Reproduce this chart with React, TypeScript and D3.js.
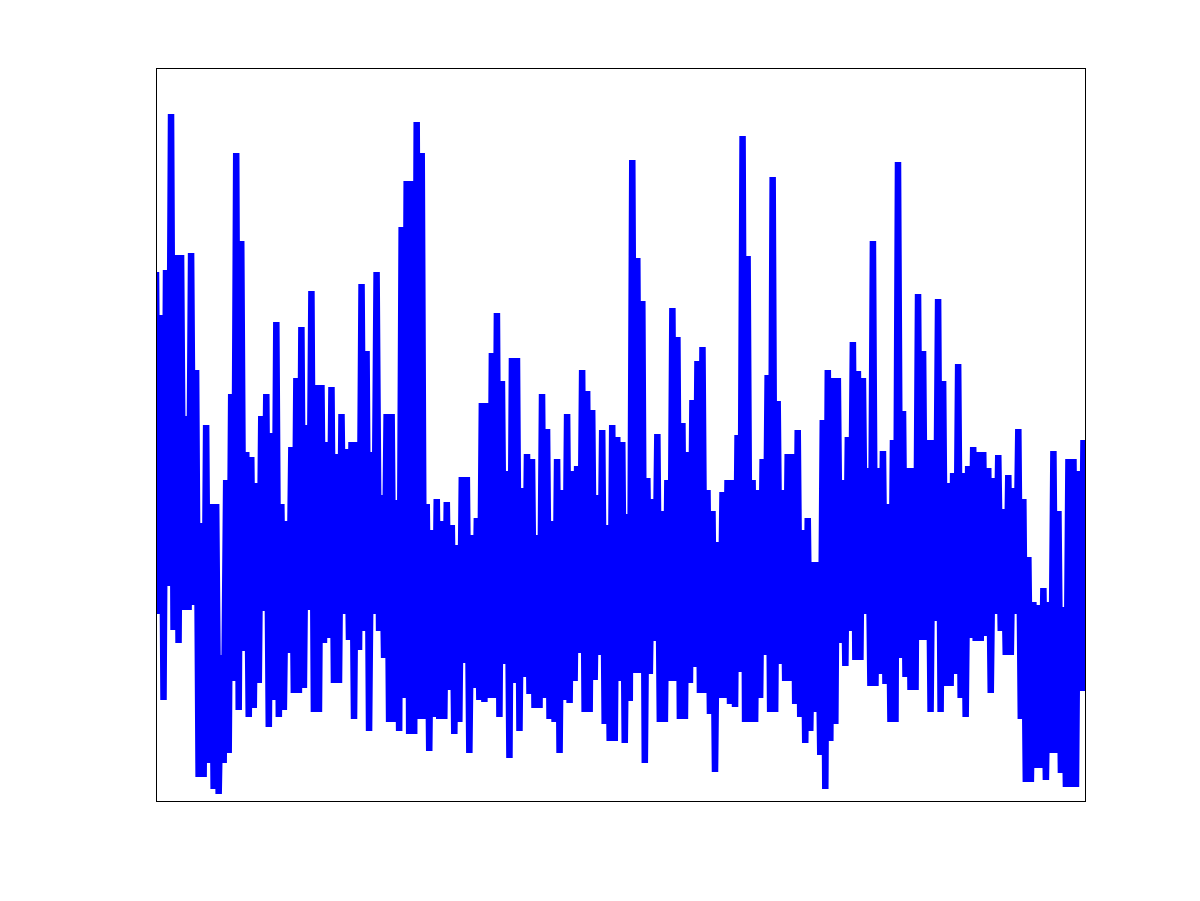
import React, { useRef, useEffect } from "react"
import * as d3 from "d3"

// signal: alternating local highs and lows
const peaks = [
  529, 486, 531, 687, 546, 546, 385, 548, 431, 278, 376, 297, 297, 146, 321, 407, 648, 560, 349, 344,
  318, 385, 407, 368, 479, 297, 280, 354, 423, 474, 376, 510, 416, 416, 359, 414, 347, 387, 352, 359,
  359, 517, 450, 349, 529, 306, 387, 387, 301, 574, 620, 620, 679, 648, 297, 271, 302, 280, 299, 276,
  256, 324, 324, 266, 283, 398, 398, 448, 488, 420, 330, 443, 443, 313, 347, 342, 266, 407, 372, 280,
  342, 311, 387, 330, 335, 431, 410, 391, 306, 371, 276, 376, 364, 359, 287, 641, 543, 500, 323, 302,
  367, 290, 321, 493, 464, 378, 349, 401, 440, 454, 311, 290, 259, 309, 321, 321, 366, 665, 545, 321,
  311, 342, 426, 624, 400, 311, 347, 347, 371, 271, 283, 239, 239, 381, 431, 423, 423, 321, 364, 459,
  430, 423, 333, 560, 333, 350, 297, 361, 639, 390, 333, 333, 507, 450, 361, 361, 502, 420, 318, 328,
  437, 328, 335, 354, 349, 349, 333, 323, 346, 292, 326, 313, 372, 302, 244, 199, 196, 213, 199, 350,
  290, 194, 342, 342, 330, 361,
]

const troughs = [
  187, 101, 215, 171, 158, 191, 191, 196, 24, 24, 38, 12, 7, 38, 48, 120, 91, 150, 84, 93,
  118, 190, 74, 101, 84, 91, 148, 108, 108, 113, 191, 89, 89, 158, 163, 118, 118, 187, 161, 82,
  151, 170, 70, 187, 170, 143, 79, 79, 70, 103, 67, 67, 82, 82, 50, 84, 82, 82, 111, 67,
  79, 138, 48, 113, 101, 99, 103, 103, 84, 137, 43, 118, 70, 124, 107, 93, 93, 103, 82, 79,
  48, 101, 98, 120, 148, 89, 89, 121, 146, 77, 60, 60, 120, 58, 100, 128, 128, 38, 127, 160,
  79, 79, 120, 120, 82, 82, 118, 134, 108, 108, 87, 29, 103, 103, 97, 94, 129, 79, 79, 79,
  103, 146, 89, 89, 137, 120, 120, 97, 84, 58, 70, 89, 46, 12, 60, 77, 158, 135, 170, 141,
  141, 187, 115, 115, 127, 117, 79, 79, 143, 124, 111, 111, 161, 161, 89, 180, 89, 115, 115, 127,
  103, 84, 163, 160, 160, 165, 108, 187, 170, 146, 146, 187, 82, 19, 19, 33, 33, 21, 48, 48,
  28, 14, 14, 14, 110, 110,
]

const yDomain = [0, 733]

function Chart() {
  const ref = useRef(null)
  const width = 1200,
    height = 901
  const margin = { top: 68, right: 114, bottom: 100, left: 156 }

  useEffect(() => {
    const svg = d3.select(ref.current)
    svg.selectAll("*").remove()

    const values = []
    peaks.forEach((p, i) => {
      values.push(p)
      values.push(troughs[i])
    })

    const x = d3
      .scaleLinear()
      .domain([0, values.length - 1])
      .range([margin.left, width - margin.right])
    const y = d3
      .scaleLinear()
      .domain(yDomain)
      .range([height - margin.bottom, margin.top])

    svg
      .append("defs")
      .append("clipPath")
      .attr("id", "plotClip")
      .append("rect")
      .attr("x", margin.left)
      .attr("y", margin.top)
      .attr("width", width - margin.left - margin.right)
      .attr("height", height - margin.top - margin.bottom)

    const line = d3
      .line()
      .x((d, i) => x(i))
      .y(d => y(d))

    svg
      .append("path")
      .datum(values)
      .attr("clip-path", "url(#plotClip)")
      .attr("fill", "none")
      .attr("stroke", "#0000ff")
      .attr("stroke-width", 6.5)
      .attr("stroke-linejoin", "miter")
      .attr("d", line)

    // box round the axes, no ticks
    svg
      .append("rect")
      .attr("x", margin.left + 0.5)
      .attr("y", margin.top + 0.5)
      .attr("width", width - margin.left - margin.right - 1)
      .attr("height", height - margin.top - margin.bottom)
      .attr("fill", "none")
      .attr("stroke", "#000")
      .attr("stroke-width", 1)
  }, [])

  return (
    <svg
      ref={ref}
      width={width}
      height={height}
      style={{ position: "absolute", left: 0, top: 0, background: "#fff" }}
    ></svg>
  )
}

export default function App() {
  return <Chart />
}
